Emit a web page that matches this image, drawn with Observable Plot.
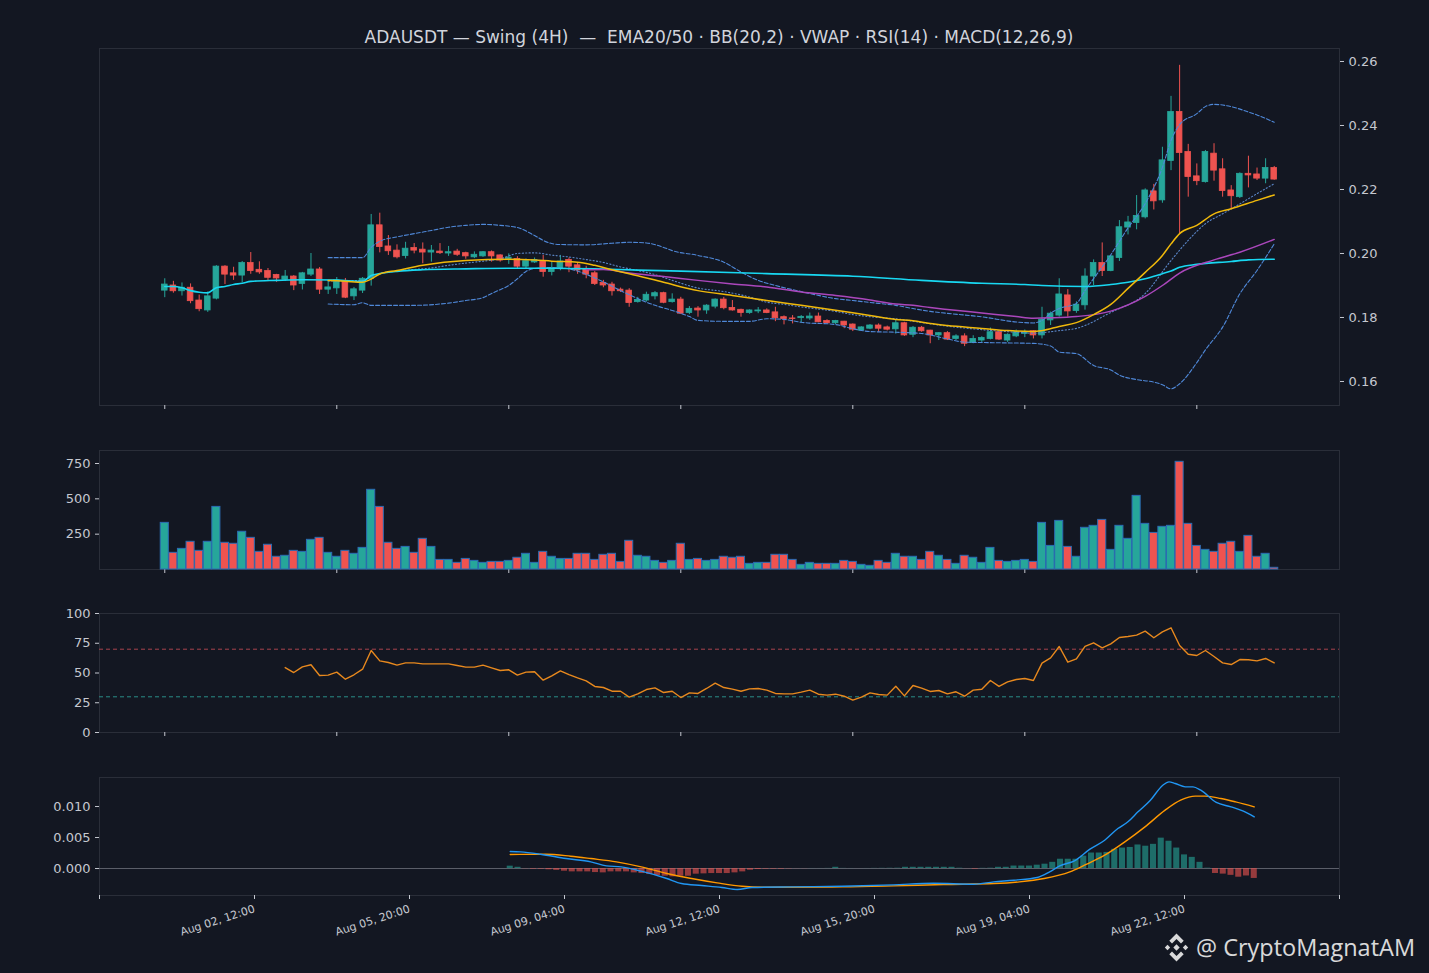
<!DOCTYPE html>
<html><head><meta charset="utf-8">
<script src="https://cdn.jsdelivr.net/npm/d3@7"></script>
<script src="https://cdn.jsdelivr.net/npm/@observablehq/plot@0.6"></script>
<style>
html,body{margin:0;padding:0;background:#131722;}
#wrap{position:relative;width:1429px;height:973px;background:#131722;overflow:hidden;font-family:"DejaVu Sans",sans-serif;}
.panel{position:absolute;left:0;}
#title{position:absolute;top:27px;left:99px;width:1240px;text-align:center;color:#d1d4dc;font-size:17px;white-space:pre;line-height:20px;}
#wm{position:absolute;left:1162px;top:930px;height:34px;display:flex;align-items:center;color:#e8e8e8;font-family:"Open Sans",sans-serif;font-size:23.5px;opacity:0.93;white-space:pre;}
#wm svg{margin-right:5px;}
</style></head>
<body><div id="wrap">
<div id="title">ADAUSDT — Swing (4H)  —  EMA20/50 · BB(20,2) · VWAP · RSI(14) · MACD(12,26,9)</div>
<div id="wm"><svg width="29" height="29" viewBox="-14.5 -14.5 29 29"><g fill="#e8e8e8"><polygon points="0,-3.2 3.2,0 0,3.2 -3.2,0"/><polygon points="-9,-2.7 -6.3,0 -9,2.7 -11.7,0"/><polygon points="9,-2.7 11.7,0 9,2.7 6.3,0"/><polygon points="0,-14 7.2,-6.8 4.5,-4.1 0,-8.6 -4.5,-4.1 -7.2,-6.8"/><polygon points="0,14 7.2,6.8 4.5,4.1 0,8.6 -4.5,4.1 -7.2,6.8"/></g></svg><span>@ CryptoMagnatAM</span></div>
</div>
<script>
// ---------- data ----------
const open = [.1884,.1900,.1882,.1893,.1853,.1822,.1859,.1959,.1938,.1931,
.1970,.1949,.1945,.1933,.1918,.1928,.1905,.1934,.1950,.1887,
.1891,.1913,.1866,.1884,.1921,.2088,.2022,.2009,.1992,.2017,
.2012,.2003,.2006,.2000,.2006,.2001,.1988,.1991,.2004,.1994,
.1983,.1983,.1959,.1972,.1976,.1942,.1952,.1980,.1963,.1950,
.1938,.1908,.1903,.1887,.1884,.1848,.1853,.1866,.1876,.1848,
.1856,.1814,.1828,.1822,.1834,.1856,.1830,.1824,.1814,.1819,
.1822,.1816,.1801,.1797,.1798,.1797,.1803,.1789,.1782,.1787,
.1778,.1759,.1765,.1775,.1769,.1763,.1782,.1746,.1768,.1759,
.1744,.1751,.1733,.1741,.1720,.1728,.1733,.1754,.1728,.1741,
.1749,.1757,.1744,.1791,.1806,.1869,.1820,.1838,.1928,.1970,
.1945,.1986,.2081,.2095,.2113,.2194,.2166,.2289,.2442,.2317,
.2241,.2223,.2312,.2263,.2197,.2176,.2249,.2247,.2234,.2267];
const high = [.1921,.1913,.1908,.1905,.1870,.1880,.1962,.1962,.1957,.1975,
.2003,.1974,.1953,.1935,.1947,.1931,.1941,.2000,.1956,.1916,
.1925,.1922,.1894,.1925,.2122,.2126,.2056,.2027,.2035,.2031,
.2033,.2025,.2031,.2022,.2013,.2004,.2005,.2006,.2008,.1996,
.1999,.1990,.1983,.1986,.1994,.1972,.1994,.1986,.1970,.1960,
.1944,.1916,.1910,.1892,.1890,.1863,.1879,.1881,.1879,.1874,
.1863,.1834,.1834,.1840,.1858,.1863,.1853,.1826,.1824,.1831,
.1827,.1832,.1805,.1806,.1806,.1814,.1814,.1793,.1791,.1788,
.1780,.1771,.1778,.1780,.1773,.1791,.1785,.1772,.1772,.1760,
.1753,.1756,.1746,.1749,.1743,.1740,.1767,.1757,.1749,.1761,
.1761,.1759,.1832,.1817,.1921,.1887,.1849,.1952,.1980,.2033,
.1993,.2103,.2116,.2181,.2202,.2216,.2332,.2491,.2588,.2341,
.2280,.2322,.2343,.2296,.2212,.2252,.2304,.2267,.2296,.2272];
const low = [.1862,.1876,.1867,.1843,.1818,.1816,.1855,.1903,.1916,.1909,
.1935,.1935,.1913,.1910,.1913,.1884,.1886,.1928,.1872,.1872,
.1872,.1859,.1853,.1875,.1898,.2002,.1994,.1983,.1983,.1999,
.1968,.1973,.1997,.1991,.1991,.1982,.1984,.1988,.1973,.1973,
.1966,.1952,.1952,.1969,.1926,.1930,.1946,.1940,.1935,.1921,
.1900,.1893,.1867,.1878,.1832,.1845,.1848,.1855,.1843,.1845,
.1810,.1809,.1801,.1810,.1827,.1824,.1820,.1801,.1810,.1812,
.1812,.1787,.1777,.1780,.1782,.1791,.1784,.1780,.1778,.1765,
.1756,.1757,.1762,.1754,.1758,.1748,.1741,.1737,.1754,.1718,
.1728,.1728,.1728,.1709,.1718,.1722,.1730,.1728,.1722,.1737,
.1737,.1733,.1733,.1775,.1801,.1801,.1813,.1823,.1900,.1928,
.1943,.1975,.2058,.2074,.2108,.2136,.2157,.2259,.2062,.2176,
.2212,.2220,.2226,.2176,.2140,.2172,.2205,.2228,.2218,.2229];
const close = [.1903,.1882,.1893,.1851,.1826,.1866,.1959,.1934,.1931,.1970,
.1945,.1941,.1924,.1922,.1928,.1900,.1938,.1950,.1887,.1894,
.1916,.1862,.1888,.1921,.2088,.2020,.2007,.1988,.2015,.2009,
.2003,.2009,.2001,.2004,.1996,.1991,.1996,.2004,.1991,.1978,
.1987,.1959,.1976,.1980,.1942,.1952,.1975,.1959,.1947,.1934,
.1905,.1900,.1882,.1882,.1845,.1855,.1871,.1876,.1846,.1856,
.1812,.1827,.1822,.1837,.1856,.1829,.1822,.1814,.1822,.1822,
.1814,.1798,.1795,.1795,.1802,.1803,.1785,.1782,.1789,.1775,
.1762,.1769,.1775,.1765,.1762,.1782,.1744,.1768,.1757,.1744,
.1751,.1731,.1741,.1718,.1733,.1736,.1754,.1731,.1746,.1754,
.1754,.1744,.1793,.1812,.1872,.1819,.1840,.1928,.1970,.1945,
.1991,.2082,.2097,.2117,.2197,.2163,.2291,.2442,.2314,.2239,
.2226,.2317,.2259,.2195,.2179,.2249,.2244,.2234,.2267,.2231];
const volume = [330,118,146,196,132,196,443,189,182,267,
224,125,175,90,97,132,125,210,224,118,
90,132,111,153,564,443,189,146,160,118,
217,160,68,68,47,75,61,47,54,54,
61,83,111,47,125,90,75,75,111,111,
68,104,111,54,203,97,90,61,47,61,
182,68,75,61,68,90,83,90,40,47,
47,104,104,68,33,47,40,40,40,61,
54,33,26,61,47,111,90,90,68,125,
97,68,40,97,83,47,153,61,54,61,
68,54,330,167,344,160,90,295,309,351,
139,309,217,521,323,259,302,309,762,323,
167,139,125,182,196,125,238,90,111,12];

// indicator readings: [candle index, value]
const ema20 = [[19,.1916],[21,.1913],[23,.1910],[24,.1920],[25,.1936],[27,.1947],[30,.1963],[35,.1978],[40,.1982],[43,.1980],[45,.1976],[48,.1973],[50,.1963],[52,.1949],[54,.1937],[58,.1910],[62,.1884],[66,.1869],[70,.1853],[74,.1838],[78,.1823],[82,.1806],[85,.1794],[87,.1790],[89,.1781],[91,.1775],[95,.1766],[98,.1759],[101,.1756],[102,.1759],[104,.1772],[106,.1784],[108,.1809],[110,.1841],[112,.1891],[114,.1941],[116,.1994],[117,.2030],[118,.2062],[120,.2088],[122,.2124],[124,.2140],[127,.2166],[129,.2183]];
const ema50 = [[49,.1949],[51,.1950],[54,.1939],[58,.1928],[62,.1916],[66,.1905],[70,.1895],[74,.1880],[78,.1869],[82,.1855],[85,.1842],[87,.1838],[89,.1831],[91,.1825],[95,.1814],[99,.1803],[101,.1798],[103,.1799],[106,.1803],[110,.1820],[114,.1866],[116,.1900],[118,.1939],[122,.1980],[125,.2004],[129,.2044]];
const vwap = [[0,.1897],[1,.1897],[2,.1893],[3,.1884],[4,.1879],[5,.1877],[6,.1893],[7,.1897],[8,.1903],[9,.1907],[10,.1913],[13,.1916],[16,.1918],[20,.1917],[23,.1913],[24,.1931],[25,.1937],[27,.1944],[30,.1949],[35,.1952],[40,.1954],[45,.1954],[50,.1952],[55,.1948],[60,.1945],[70,.1937],[80,.1929],[88,.1916],[95,.1907],[100,.1903],[102,.1900],[107,.1897],[110,.1903],[112,.1910],[114,.1921],[116,.1937],[117,.1945],[118,.1957],[120,.1966],[124,.1975],[126,.1980],[129,.1982]];
const bbUpper = [[19,.1987],[23,.1987],[24,.2019],[25,.2038],[27,.2052],[29,.2062],[31,.2072],[33,.2082],[35,.2088],[37,.2091],[39,.2088],[41,.2081],[43,.2056],[44,.2041],[45,.2031],[46,.2028],[49,.2027],[52,.2032],[54,.2035],[56,.2033],[58,.2019],[59,.2009],[62,.1994],[65,.1973],[67,.1942],[69,.1916],[71,.1900],[74,.1881],[78,.1859],[80,.1853],[83,.1844],[85,.1838],[87,.1828],[89,.1819],[91,.1813],[95,.1802],[99,.1786],[101,.1783],[102,.1791],[103,.1813],[104,.1828],[106,.1844],[107,.1884],[110,.1996],[112,.2080],[114,.2156],[116,.2269],[117,.2353],[118,.2403],[120,.2437],[121,.2459],[122,.2466],[124,.2459],[126,.2442],[127,.2433],[129,.2410]];
const bbMid = [[19,.1914],[23,.1916],[24,.1928],[25,.1937],[27,.1945],[29,.1950],[31,.1955],[33,.1963],[35,.1970],[37,.1976],[39,.1983],[41,.2000],[43,.2002],[45,.1995],[47,.1989],[49,.1981],[51,.1972],[53,.1958],[55,.1947],[57,.1934],[59,.1916],[62,.1892],[65,.1881],[68,.1864],[70,.1848],[72,.1841],[74,.1833],[78,.1819],[80,.1809],[83,.1800],[85,.1796],[88,.1784],[91,.1773],[95,.1762],[99,.1754],[101,.1751],[104,.1759],[106,.1766],[110,.1816],[114,.1875],[117,.1978],[119,.2041],[121,.2093],[123,.2124],[125,.2155],[127,.2187],[129,.2218]];
const bbLower = [[19,.1842],[22,.1840],[23,.1846],[24,.1838],[29,.1838],[33,.1845],[35,.1853],[37,.1862],[38,.1875],[39,.1887],[40,.1900],[41,.1921],[42,.1944],[43,.1953],[45,.1956],[47,.1952],[49,.1935],[51,.1911],[53,.1884],[55,.1859],[57,.1838],[59,.1822],[61,.1803],[62,.1791],[65,.1788],[68,.1788],[70,.1796],[72,.1794],[74,.1785],[78,.1778],[80,.1765],[82,.1756],[85,.1754],[88,.1750],[91,.1733],[93,.1723],[97,.1721],[101,.1719],[103,.1711],[104,.1692],[106,.1687],[108,.1650],[110,.1636],[111,.1620],[113,.1606],[115,.1598],[116,.1590],[117,.1577],[118,.1593],[120,.1659],[121,.1699],[123,.1770],[125,.1874],[127,.1947],[129,.2030]];

const rsiStart = 14;
const rsi = [54.6,50.4,55.2,56.9,47.9,48.2,50.7,44.8,48.5,53.2,
68.9,60.2,58.8,56.6,58.5,58.5,57.7,57.7,57.7,57.7,
56.3,54.9,54.9,56.6,54.3,52.1,52.7,48.2,50.7,51.0,
44.0,47.6,51.8,48.7,45.9,43.4,38.7,37.8,34.7,34.7,
29.7,32.5,36.1,37.5,33.6,34.7,29.4,33.3,32.8,37.0,
41.5,37.8,36.4,34.7,36.7,37.0,35.6,32.8,
32.5,32.5,33.9,35.6,32.2,31.4,32.2,30.5,27.2,29.7,
33.3,31.9,31.4,38.9,30.8,39.5,37.3,34.5,35.3,32.5,
34.2,30.5,35.6,36.4,43.7,38.7,42.6,44.5,45.4,43.7,
58.3,62.7,72.3,59.1,61.9,72.3,75.4,71.1,74.5,79.8,
80.7,81.8,85.2,79.6,84.6,88.0,73.1,65.8,64.7,68.9,
63.9,58.5,57.1,61.3,61.1,60.2,62.2,58.5];
const rsiLevels = [70, 30];

const histStart = 33;
const macdHist = [.00038,.0002,-.00003,-.0001,-.0001,-.0002,-.0003,-.00043,-.00054,-.00054,
-.00054,-.00065,-.0007,-.00054,-.00054,-.00054,-.0007,-.00081,-.00097,-.00113,
-.00124,-.00134,-.00124,-.00124,-.00091,-.00086,-.00081,-.00081,-.00081,-.0007,
-.00054,-.00027,-.00016,-.0001,-.0001,-.0001,-.00005,-.00002,-.00002,.00001,
.00001,.00002,.0002,.00002,.00001,0,.00001,.00002,.00003,.00004,
.00005,.0002,.0002,.0002,.0002,.0002,.0002,.0002,.00005,-.00002,
-.0001,.00003,.00005,.0002,.0002,.0004,.0004,.0004,.00054,.0007,
.001,.0015,.0015,.0015,.002,.0025,.0025,.0026,.0031,.0033,
.0034,.0038,.0036,.0039,.0049,.0044,.0033,.0022,.0018,.001,
.00005,-.0008,-.0009,-.0011,-.0014,-.0012,-.0016];
const macdLine = [[33,.00274],[34.3,.00269],[36.9,.00231],[40.2,.00161],[43.4,.00108],[45.4,.00043],[47.3,.00027],[49.9,-.00043],[53.2,-.00161],[55.1,-.00242],[57.7,-.00274],[60.3,-.00306],[62.3,-.00339],[64.2,-.00306],[69.4,-.00296],[75.9,-.00285],[82.4,-.00263],[87.6,-.00237],[92.8,-.00253],[95.4,-.00215],[98,-.00188],[101,-.00145],[102.6,-.00054],[103.9,.00043],[105.8,.00124],[107.8,.00312],[109.7,.00457],[111.4,.00645],[112.7,.00753],[114,.00914],[115.6,.01102],[117.2,.01344],[118,.01398],[118.8,.01371],[120.1,.01317],[121.1,.01317],[122.1,.01263],[124.1,.01065],[126,.00995],[127.6,.00925],[129,.00833]];
const macdSignal = [[33,.00226],[37.6,.00231],[40.8,.00199],[43.4,.00161],[46.7,.00108],[49.9,.00027],[53.2,-.00081],[56.4,-.00161],[59.7,-.00231],[62.9,-.00285],[66.2,-.00301],[75.9,-.00296],[82.4,-.0028],[88.9,-.00258],[95.4,-.00242],[98.7,-.00215],[101.9,-.00161],[105.2,-.00054],[107.1,.00054],[109.7,.00215],[112.3,.0043],[114.9,.00672],[117.5,.00941],[119.5,.01102],[121.4,.01167],[122.7,.01167],[124.7,.01129],[126.6,.01075],[129,.00995]];

const priceTicks = [0.16,0.18,0.20,0.22,0.24,0.26];
const volTicks = [250,500,750];
const rsiTicks = [0,25,50,75,100];
const macdTicks = [0,0.005,0.010];
const idxTicks = [0,20,40,60,80,100,120];
const bottomTicks = [-20,0,20,40,60,80,100,120,140];
const dateLabels = ["","Aug 02, 12:00","Aug 05, 20:00","Aug 09, 04:00","Aug 12, 12:00","Aug 15, 20:00","Aug 19, 04:00","Aug 22, 12:00",""];

// ---------- styling ----------
const W = 1429, ML = 99, MR = 90;
const xDomain = [-7.59, 136.59];
const bottomDomain = [-20, 140];
const UP = "#26a69a", DN = "#ef5350", FRAME = "#2a2e39", BB = "#4f88d8";
const S = {background:"transparent", color:"#c5c8d0", fontFamily:"DejaVu Sans, sans-serif", fontSize:"13px", overflow:"visible"};
const wrap = document.getElementById("wrap");
function panel(top, opts){
  const d = document.createElement("div"); d.className = "panel"; d.style.top = top + "px";
  d.append(Plot.plot(Object.assign({width: W, marginLeft: ML, marginRight: MR, style: S, color:{type:"identity"}}, opts)));
  wrap.append(d);
}
const candles = open.map((o, i) => ({i, o, h: high[i], l: low[i], c: close[i], v: volume[i], col: close[i] >= o ? UP : DN}));
const P = d => d[0], V = d => d[1];

// main price panel
panel(40, {
  height: 375, marginTop: 8, marginBottom: 10,
  x: {domain: xDomain}, y: {domain: [0.1525, 0.26406]},
  marks: [
    Plot.frame({stroke: FRAME}),
    Plot.axisY({anchor:"right", ticks: priceTicks, tickFormat: d => d.toFixed(2), tickSize: 4, tickPadding: 5, fontSize: 13, label: null}),
    Plot.axisX({anchor:"bottom", ticks: idxTicks, tickFormat: () => "", tickSize: 4, label: null}),
    Plot.ruleX(candles, {x: "i", y1: "l", y2: "h", stroke: "col", strokeWidth: 1}),
    Plot.rect(candles, {x1: d => d.i - 0.33, x2: d => d.i + 0.33, y1: "o", y2: "c", fill: "col", stroke: "col", strokeWidth: 0.8}),
    Plot.line(bbUpper, {x: P, y: V, curve: "monotone-x", stroke: BB, strokeWidth: 1.1, strokeDasharray: "4,2"}),
    Plot.line(bbLower, {x: P, y: V, curve: "monotone-x", stroke: BB, strokeWidth: 1.1, strokeDasharray: "4,2"}),
    Plot.line(bbMid, {x: P, y: V, curve: "monotone-x", stroke: "#5a86c8", strokeWidth: 1.1, strokeDasharray: "1.2,2.2"}),
    Plot.line(vwap, {x: P, y: V, curve: "monotone-x", stroke: "#18d8f2", strokeWidth: 1.6}),
    Plot.line(ema50, {x: P, y: V, curve: "monotone-x", stroke: "#ab47bc", strokeWidth: 1.5}),
    Plot.line(ema20, {x: P, y: V, curve: "monotone-x", stroke: "#f0b90b", strokeWidth: 1.5})
  ]
});

// volume panel
panel(440, {
  height: 140, marginTop: 10, marginBottom: 11,
  x: {domain: xDomain}, y: {domain: [0, 842]},
  marks: [
    Plot.frame({stroke: FRAME}),
    Plot.axisY({anchor:"left", ticks: volTicks, tickSize: 4, tickPadding: 5, fontSize: 13, label: null}),
    Plot.axisX({anchor:"bottom", ticks: idxTicks, tickFormat: () => "", tickSize: 4, label: null}),
    Plot.rect(candles, {x1: d => d.i - 0.47, x2: d => d.i + 0.47, y1: 0, y2: "v", fill: "col", stroke: "#2b6cb4", strokeWidth: 1})
  ]
});

// RSI panel
const rsiData = rsi.map((v, k) => [rsiStart + k, v]);
panel(603, {
  height: 140, marginTop: 10, marginBottom: 11,
  x: {domain: xDomain}, y: {domain: [0, 100]},
  marks: [
    Plot.frame({stroke: FRAME}),
    Plot.axisY({anchor:"left", ticks: rsiTicks, tickSize: 4, tickPadding: 5, fontSize: 13, label: null}),
    Plot.axisX({anchor:"bottom", ticks: idxTicks, tickFormat: () => "", tickSize: 4, label: null}),
    Plot.ruleY([rsiLevels[0]], {stroke: "#a8434d", strokeWidth: 1, strokeDasharray: "4,3"}),
    Plot.ruleY([rsiLevels[1]], {stroke: "#2a8d88", strokeWidth: 1, strokeDasharray: "4,3"}),
    Plot.line(rsiData, {x: P, y: V, stroke: "#e8891e", strokeWidth: 1.4})
  ]
});

// MACD panel
const histData = macdHist.map((v, k) => ({j: histStart + k, v, col: v >= 0 ? UP : DN}));
panel(767, {
  height: 200, marginTop: 10, marginBottom: 72,
  x: {domain: bottomDomain}, y: {domain: [-0.00435, 0.01468]},
  marks: [
    Plot.frame({stroke: FRAME}),
    Plot.axisY({anchor:"left", ticks: macdTicks, tickFormat: d => d.toFixed(3), tickSize: 4, tickPadding: 5, fontSize: 13, label: null}),
    Plot.axisX({anchor:"bottom", ticks: bottomTicks, tickFormat: d => dateLabels[bottomTicks.indexOf(d)], tickRotate: -18, tickSize: 4, tickPadding: 9, fontSize: 11, label: null}),
    Plot.ruleY([0], {stroke: "#5d606b", strokeWidth: 1}),
    Plot.rect(histData, {x1: d => d.j - 0.39, x2: d => d.j + 0.39, y1: 0, y2: "v", fill: "col", fillOpacity: 0.6}),
    Plot.line(macdSignal, {x: P, y: V, curve: "monotone-x", stroke: "#ff9800", strokeWidth: 1.4}),
    Plot.line(macdLine, {x: P, y: V, curve: "monotone-x", stroke: "#2196f3", strokeWidth: 1.4})
  ]
});
</script>
</body></html>
